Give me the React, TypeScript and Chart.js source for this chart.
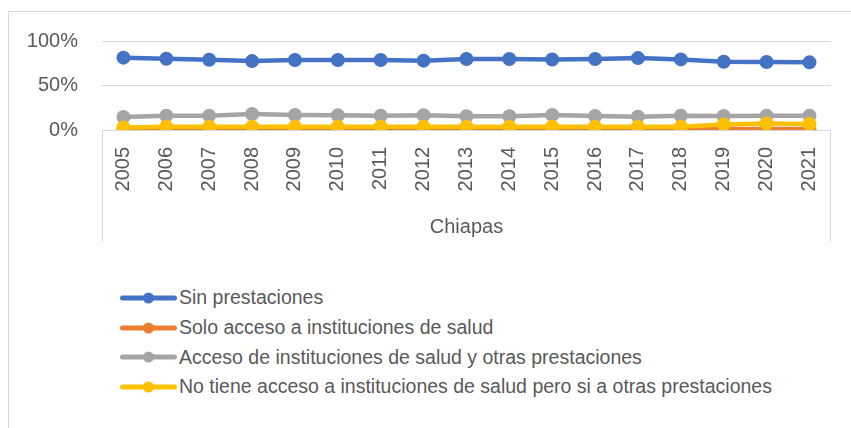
import React, { useEffect, useRef } from 'react';
import { Chart, registerables } from 'chart.js';

Chart.register(...registerables);

const years = ['2005', '2006', '2007', '2008', '2009', '2010', '2011', '2012', '2013', '2014', '2015', '2016', '2017', '2018', '2019', '2020', '2021'];
const groupLabel = 'Chiapas';
const yTickValues = [0, 0.5, 1];

const seriesNames = [
  'Sin prestaciones',
  'Solo acceso a instituciones de salud',
  'Acceso de instituciones de salud y otras prestaciones',
  'No tiene acceso a instituciones de salud pero si a otras prestaciones',
];
const seriesColors = ['#4472C4', '#ED7D31', '#A5A5A5', '#FFC000'];

const sinPrestaciones = [0.813, 0.801, 0.79, 0.774, 0.786, 0.786, 0.786, 0.779, 0.797, 0.797, 0.792, 0.797, 0.808, 0.793, 0.767, 0.764, 0.76];
const soloSalud = [0.003, 0.003, 0.003, 0.003, 0.003, 0.003, 0.003, 0.003, 0.003, 0.003, 0.003, 0.003, 0.003, 0.003, 0.012, 0.012, 0.012];
const accesoSaludOtras = [0.147, 0.161, 0.161, 0.18, 0.169, 0.165, 0.161, 0.165, 0.154, 0.154, 0.169, 0.158, 0.15, 0.161, 0.158, 0.161, 0.161];
const noTieneSalud = [0.029, 0.037, 0.037, 0.037, 0.037, 0.037, 0.037, 0.037, 0.037, 0.037, 0.037, 0.037, 0.037, 0.037, 0.063, 0.074, 0.068];

const seriesValues = [sinPrestaciones, soloSalud, accesoSaludOtras, noTieneSalud];

const FONT = "'Liberation Sans', Arial, sans-serif";
const TEXT = '#595959';
const LINE = '#d9d9d9';

const categoryBoxPlugin = {
  id: 'categoryBox',
  afterDraw(chart: any) {
    const { ctx, chartArea } = chart;
    const xs = chart.scales.x;
    ctx.save();
    ctx.strokeStyle = LINE;
    ctx.lineWidth = 1;
    ctx.beginPath();
    const l = Math.round(chartArea.left) + 0.5;
    const r = Math.round(chartArea.right) - 0.5;
    ctx.moveTo(l, chartArea.bottom);
    ctx.lineTo(l, xs.bottom);
    ctx.moveTo(r, chartArea.bottom);
    ctx.lineTo(r, xs.bottom);
    ctx.stroke();
    ctx.restore();
  },
};

export default function App() {
  const canvasRef = useRef<HTMLCanvasElement | null>(null);

  useEffect(() => {
    if (!canvasRef.current) return;
    const chart = new Chart(canvasRef.current, {
      type: 'line',
      data: {
        labels: years,
        datasets: seriesNames.map((name, i) => ({
          label: name,
          data: seriesValues[i],
          borderColor: seriesColors[i],
          backgroundColor: seriesColors[i],
          pointBackgroundColor: seriesColors[i],
          pointBorderColor: seriesColors[i],
          borderWidth: 4.5,
          pointRadius: 6,
          pointBorderWidth: 2,
          tension: 0,
          fill: false,
          order: seriesNames.length - 1 - i,
        })),
      },
      options: {
        responsive: false,
        animation: false,
        events: [],
        layout: { padding: { left: 0, right: 18, top: 29, bottom: 20 } },
        plugins: {
          legend: { display: false },
          tooltip: { enabled: false },
          title: { display: false },
        },
        scales: {
          x: {
            type: 'category',
            offset: true,
            grid: { display: false, drawTicks: false },
            border: { display: true, color: LINE, width: 1 },
            ticks: {
              minRotation: 90,
              maxRotation: 90,
              autoSkip: false,
              padding: 17,
              color: TEXT,
              font: { family: FONT, size: 20 },
            },
            title: {
              display: true,
              text: groupLabel,
              color: TEXT,
              font: { family: FONT, size: 20 },
              padding: { top: 0, bottom: 3 },
            },
            afterFit: (scale: any) => {
              scale.height = 112;
            },
          },
          y: {
            min: 0,
            max: 1,
            afterBuildTicks: (scale: any) => {
              scale.ticks = yTickValues.map((v) => ({ value: v }));
            },
            grid: { color: LINE, lineWidth: 1, drawTicks: true, tickLength: 24, tickColor: 'rgba(0,0,0,0)' },
            border: { display: false },
            ticks: {
              padding: 0,
              color: TEXT,
              font: { family: FONT, size: 20 },
              callback: (v: any) => `${Math.round(Number(v) * 100)}%`,
            },
            afterFit: (scale: any) => {
              scale.width = 93;
            },
          },
        },
      },
      plugins: [categoryBoxPlugin],
    });
    return () => chart.destroy();
  }, []);

  return (
    <div
      style={{
        position: 'fixed',
        left: 8,
        top: 11,
        width: 843,
        height: 417,
        boxSizing: 'border-box',
        borderLeft: `1px solid ${LINE}`,
        borderTop: `1px solid ${LINE}`,
        background: '#fff',
        overflow: 'hidden',
      }}
    >
      <canvas ref={canvasRef} width={842} height={250} style={{ position: 'absolute', left: 0, top: 0 }} />
      <div style={{ position: 'absolute', left: 111, top: 271, fontFamily: FONT, fontSize: 19.5, color: TEXT }}>
        {seriesNames.map((name, i) => (
          <div key={name} style={{ display: 'flex', alignItems: 'center', height: 29.7, whiteSpace: 'nowrap' }}>
            <svg width={57} height={14} style={{ flex: 'none', marginRight: 2 }}>
              <line x1={2.5} y1={7} x2={54.5} y2={7} stroke={seriesColors[i]} strokeWidth={5} strokeLinecap="round" />
              <circle cx={28.5} cy={7} r={5.5} fill={seriesColors[i]} />
            </svg>
            <span>{name}</span>
          </div>
        ))}
      </div>
    </div>
  );
}
